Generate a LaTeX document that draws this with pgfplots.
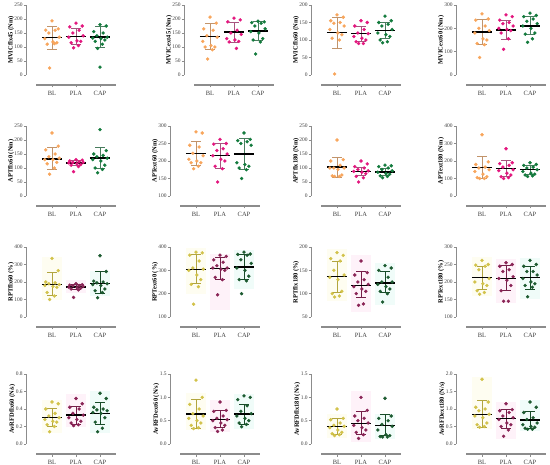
\documentclass[border=0pt]{standalone}
\usepackage{pgfplots}
\pgfplotsset{compat=1.18}
\usepackage{fontspec}
\setmainfont{Liberation Serif}
\definecolor{axgray}{HTML}{8C8C8C}
\definecolor{labgray}{HTML}{404040}
\definecolor{orA}{HTML}{F8A55B}
\definecolor{pkA}{HTML}{E3167E}
\definecolor{gnA}{HTML}{127A3C}
\definecolor{ylB}{HTML}{D2C24A}
\definecolor{pkB}{HTML}{8A2456}
\definecolor{gnB}{HTML}{1C5A30}
\definecolor{bgY}{HTML}{FEFDF1}
\definecolor{bgP}{HTML}{FEF2F9}
\definecolor{bgC}{HTML}{F0FCF9}

\newcommand{\jitof}[1]{\ifcase#1 0\or 0.26\or -0.26\or 0.13\or -0.13\or 0.3\or -0.3\or 0.04\or 0.2\or -0.2\or 0.1\or -0.1\else 0\fi}

\newcommand{\pts}[3]{\addplot[only marks, mark=*, mark size=1.5bp, color=#2] table[row sep=\\, header=false, x expr={#1+(\jitof{\coordindex})}, y index=0] {#3\\};}

\newcommand{\msd}[5]{%
 \pgfmathsetmacro\xa{#1-0.2}\pgfmathsetmacro\xb{#1+0.2}%
 \pgfmathsetmacro\xc{#1-0.42}\pgfmathsetmacro\xd{#1+0.42}%
 \addplot[#2, line width=0.9bp] coordinates {(#1,#5) (#1,#4)};
 \addplot[#2, line width=0.9bp] coordinates {(\xa,#4) (\xb,#4)};
 \addplot[#2, line width=0.9bp] coordinates {(\xa,#5) (\xb,#5)};
 \addplot[black, line width=1.4bp] coordinates {(\xc,#3) (\xd,#3)};
}

\newcommand{\bgr}[4]{%
 \pgfmathsetmacro\xa{#1-0.42}\pgfmathsetmacro\xb{#1+0.42}%
 \addplot[fill=#2, draw=none] coordinates {(\xa,#3) (\xb,#3) (\xb,#4) (\xa,#4)};
}

\pgfplotsset{
 panel/.style={
  scale only axis, width=79.2bp, height=70bp,
  xmin=-0.65, xmax=2.65,
  axis x line=bottom, axis y line=left,
  axis x line shift=10bp, axis y line shift=10bp,
  axis line style={-, draw=axgray, line width=1.1bp},
  xtick={0,1,2}, xticklabels={BL,PLA,CAP},
  tick align=outside, major tick length=2.5bp, minor tick num=0,
  tick style={axgray, line width=0.8bp},
  tick label style={text=labgray},
  yticklabel style={font=\fontsize{5.5}{6}\selectfont, inner sep=1bp},
  xticklabel style={font=\fontsize{6.5}{7}\selectfont},
  ylabel style={font=\fontsize{6.5}{7}\selectfont\bfseries, text=black},
  ylabel shift=-4bp,
  clip=false,
  /pgf/number format/assume math mode=true,
  anchor=south west,
 },
 dec/.style={yticklabel style={/pgf/number format/.cd, fixed, fixed zerofill, precision=1}},
}

\begin{document}
\begin{tikzpicture}
\path[use as bounding box] (0,0) rectangle (550bp,465bp);

% ---------------- Row 1 ----------------
\begin{axis}[panel, at={(36.4bp,390bp)}, ymin=0, ymax=250, ytick={0,50,100,150,200,250}, ylabel={MVICflx45 (Nm)}]
\pts{0}{orA}{193\\165\\160\\160\\150\\135\\130\\118\\115\\110\\112\\25}
\pts{1}{pkA}{185\\175\\172\\160\\150\\140\\135\\122\\120\\115\\105\\97}
\pts{2}{gnA}{180\\175\\155\\150\\140\\135\\132\\130\\125\\120\\110\\95\\28}
\msd{0}{orA!55!gray}{133}{175}{91}
\msd{1}{pkA!40!gray}{137}{165}{110}
\msd{2}{gnA!50!gray}{135}{175}{97}
\end{axis}

\begin{axis}[panel, at={(194.4bp,390bp)}, ymin=0, ymax=250, ytick={0,50,100,150,200,250}, ylabel={MVICext45 (Nm)}]
\pts{0}{orA}{207\\185\\165\\160\\140\\135\\120\\105\\100\\100\\90\\57}
\pts{1}{pkA}{203\\197\\190\\160\\150\\145\\130\\125\\120\\118\\95}
\pts{2}{gnA}{192\\190\\187\\185\\175\\165\\155\\150\\130\\125\\118\\75}
\msd{0}{orA!55!gray}{137}{183}{92}
\msd{1}{pkA!40!gray}{153}{188}{118}
\msd{2}{gnA!50!gray}{157}{190}{123}
\end{axis}

\begin{axis}[panel, at={(321.4bp,390bp)}, ymin=0, ymax=200, ytick={0,50,100,150,200}, ylabel={MVICflx60 (Nm)}]
\pts{0}{orA}{172\\165\\155\\150\\148\\140\\130\\120\\115\\105\\100\\3}
\pts{1}{pkA}{155\\150\\140\\130\\120\\118\\110\\105\\100\\95\\90\\90}
\pts{2}{gnA}{168\\155\\150\\145\\140\\130\\120\\115\\110\\100\\95\\92}
\msd{0}{orA!55!gray}{121}{165}{77}
\msd{1}{pkA!40!gray}{118}{140}{97}
\msd{2}{gnA!50!gray}{127}{150}{105}
\end{axis}

\begin{axis}[panel, at={(466.4bp,390bp)}, ymin=0, ymax=300, ytick={0,100,200,300}, ylabel={MVICext60 (Nm)}]
\pts{0}{orA}{262\\240\\235\\210\\200\\190\\180\\155\\150\\135\\130\\75}
\pts{1}{pkA}{258\\250\\235\\225\\220\\210\\200\\195\\190\\180\\155\\110}
\pts{2}{gnA}{265\\255\\250\\240\\230\\220\\210\\200\\180\\175\\155\\140}
\msd{0}{orA!55!gray}{185}{240}{132}
\msd{1}{pkA!40!gray}{193}{235}{152}
\msd{2}{gnA!50!gray}{210}{250}{172}
\end{axis}

% ---------------- Row 2 ----------------
\begin{axis}[panel, at={(36.4bp,269bp)}, ymin=0, ymax=250, ytick={0,50,100,150,200,250}, ylabel={APTflx60 (Nm)}]
\pts{0}{orA}{225\\178\\165\\150\\140\\135\\130\\130\\120\\115\\100\\78}
\pts{1}{pkA}{130\\128\\125\\122\\120\\120\\118\\115\\112\\110\\105\\87}
\pts{2}{gnA}{237\\162\\150\\145\\140\\135\\130\\125\\110\\100\\95\\83}
\msd{0}{orA!55!gray}{132}{172}{95}
\msd{1}{pkA!40!gray}{118}{128}{108}
\msd{2}{gnA!50!gray}{135}{175}{97}
\end{axis}

\begin{axis}[panel, at={(180.4bp,269bp)}, ymin=100, ymax=300, ytick={100,150,200,250,300}, ylabel={APText60 (Nm)}]
\pts{0}{orA}{283\\280\\245\\240\\222\\215\\205\\200\\195\\195\\185\\178}
\pts{1}{pkA}{262\\250\\248\\235\\230\\220\\215\\205\\200\\185\\178\\140}
\pts{2}{gnA}{280\\262\\258\\255\\250\\245\\195\\190\\185\\180\\175\\150}
\msd{0}{orA!55!gray}{222}{257}{187}
\msd{1}{pkA!40!gray}{215}{250}{180}
\msd{2}{gnA!50!gray}{220}{263}{177}
\end{axis}

\begin{axis}[panel, at={(321.4bp,269bp)}, ymin=0, ymax=250, ytick={0,50,100,150,200,250}, ylabel={APTflx180 (Nm)}]
\pts{0}{orA}{200\\130\\125\\110\\100\\100\\100\\95\\75\\72\\70\\70}
\pts{1}{pkA}{125\\115\\105\\100\\95\\90\\88\\85\\80\\70\\65\\50}
\pts{2}{gnA}{110\\108\\105\\100\\95\\90\\85\\80\\78\\72\\70\\65}
\msd{0}{orA!55!gray}{103}{138}{68}
\msd{1}{pkA!40!gray}{88}{103}{72}
\msd{2}{gnA!50!gray}{86}{100}{72}
\end{axis}

\begin{axis}[panel, at={(466.4bp,269bp)}, ymin=0, ymax=400, ytick={0,100,200,300,400}, ylabel={APText180 (Nm)}]
\pts{0}{orA}{350\\195\\180\\165\\160\\150\\140\\125\\110\\105\\100\\100}
\pts{1}{pkA}{270\\190\\185\\175\\165\\150\\145\\130\\120\\110\\105\\100}
\pts{2}{gnA}{190\\180\\175\\165\\160\\150\\140\\130\\125\\120\\115\\112}
\msd{0}{orA!55!gray}{163}{228}{100}
\msd{1}{pkA!40!gray}{158}{205}{113}
\msd{2}{gnA!50!gray}{150}{175}{125}
\end{axis}

% ---------------- Row 3 ----------------
\begin{axis}[panel, at={(36.4bp,148bp)}, ymin=0, ymax=400, ytick={0,100,200,300,400}, ylabel={RPTflx60 (\%)}]
\bgr{0}{bgY}{95}{345}\bgr{1}{bgP}{135}{212}\bgr{2}{bgC}{120}{265}
\pts{0}{ylB}{335\\265\\200\\195\\190\\185\\180\\175\\170\\140\\120\\100}
\pts{1}{pkB}{190\\185\\182\\180\\178\\175\\170\\168\\165\\160\\155\\112}
\pts{2}{gnB}{350\\260\\205\\200\\195\\190\\185\\180\\160\\150\\140\\110}
\msd{0}{ylB!85!black}{185}{252}{122}
\msd{1}{pkB!85!black}{172}{188}{157}
\msd{2}{gnB!85!black}{193}{258}{135}
\end{axis}

\begin{axis}[panel, at={(180.4bp,148bp)}, ymin=100, ymax=400, ytick={100,200,300,400}, ylabel={RPText60 (\%)}]
\bgr{0}{bgY}{200}{395}\bgr{1}{bgP}{130}{370}\bgr{2}{bgC}{220}{385}
\pts{0}{ylB}{378\\375\\365\\340\\310\\305\\300\\280\\260\\240\\230\\155}
\pts{1}{pkB}{365\\360\\345\\335\\320\\310\\310\\305\\300\\270\\260\\195}
\pts{2}{gnB}{378\\370\\368\\365\\345\\330\\310\\300\\275\\260\\255\\200}
\msd{0}{ylB!85!black}{303}{368}{243}
\msd{1}{pkB!85!black}{307}{355}{260}
\msd{2}{gnB!85!black}{315}{370}{262}
\end{axis}

\begin{axis}[panel, at={(321.4bp,148bp)}, ymin=50, ymax=200, ytick={50,100,150,200}, ylabel={RPTflx180 (\%)}]
\bgr{0}{bgY}{85}{195}\bgr{1}{bgP}{61}{183}\bgr{2}{bgC}{75}{165}
\pts{0}{ylB}{188\\182\\175\\170\\150\\140\\135\\130\\105\\100\\95\\93}
\pts{1}{pkB}{170\\145\\140\\130\\125\\120\\115\\110\\105\\100\\78\\75}
\pts{2}{gnB}{160\\155\\150\\135\\125\\125\\120\\115\\110\\105\\100\\82}
\msd{0}{ylB!85!black}{137}{170}{103}
\msd{1}{pkB!85!black}{118}{147}{92}
\msd{2}{gnB!85!black}{123}{147}{103}
\end{axis}

\begin{axis}[panel, at={(466.4bp,148bp)}, ymin=100, ymax=300, ytick={100,150,200,250,300}, ylabel={RPText180 (\%)}]
\bgr{0}{bgY}{160}{270}\bgr{1}{bgP}{140}{265}\bgr{2}{bgC}{150}{268}
\pts{0}{ylB}{262\\250\\248\\245\\235\\210\\200\\195\\190\\175\\170\\165}
\pts{1}{pkB}{255\\250\\245\\235\\230\\215\\210\\205\\190\\175\\145\\145}
\pts{2}{gnB}{262\\250\\245\\230\\230\\220\\210\\200\\195\\190\\185\\158}
\msd{0}{ylB!85!black}{212}{245}{178}
\msd{1}{pkB!85!black}{210}{248}{175}
\msd{2}{gnB!85!black}{213}{245}{180}
\end{axis}

% ---------------- Row 4 ----------------
\begin{axis}[panel, dec, at={(36.4bp,21bp)}, ymin=0, ymax=0.8, ytick={0,0.2,0.4,0.6,0.8}, ylabel={AvRFDflx60 (N/s)}]
\bgr{0}{bgY}{0.12}{0.50}\bgr{1}{bgP}{0.19}{0.57}\bgr{2}{bgC}{0.12}{0.60}
\pts{0}{ylB}{0.48\\0.46\\0.40\\0.35\\0.32\\0.30\\0.28\\0.26\\0.25\\0.22\\0.20\\0.14}
\pts{1}{pkB}{0.52\\0.46\\0.42\\0.40\\0.35\\0.33\\0.30\\0.28\\0.26\\0.24\\0.22\\0.21}
\pts{2}{gnB}{0.58\\0.52\\0.42\\0.40\\0.39\\0.38\\0.36\\0.35\\0.30\\0.25\\0.18\\0.14}
\msd{0}{ylB!85!black}{0.30}{0.41}{0.20}
\msd{1}{pkB!85!black}{0.33}{0.43}{0.22}
\msd{2}{gnB!85!black}{0.35}{0.47}{0.22}
\end{axis}

\begin{axis}[panel, dec, at={(180.4bp,21bp)}, ymin=0, ymax=1.5, ytick={0,0.5,1.0,1.5}, ylabel={AvRFDext60 (N/s)}]
\bgr{0}{bgY}{0.30}{1.10}\bgr{1}{bgP}{0.25}{0.95}\bgr{2}{bgC}{0.33}{1.08}
\pts{0}{ylB}{1.37\\1.0\\0.85\\0.75\\0.65\\0.6\\0.55\\0.5\\0.45\\0.4\\0.35\\0.33}
\pts{1}{pkB}{0.9\\0.72\\0.7\\0.6\\0.55\\0.52\\0.5\\0.45\\0.4\\0.35\\0.3\\0.27}
\pts{2}{gnB}{1.03\\1.0\\0.95\\0.82\\0.7\\0.65\\0.6\\0.55\\0.5\\0.45\\0.42\\0.37}
\msd{0}{ylB!85!black}{0.64}{0.95}{0.33}
\msd{1}{pkB!85!black}{0.53}{0.72}{0.35}
\msd{2}{gnB!85!black}{0.64}{0.85}{0.42}
\end{axis}

\begin{axis}[panel, dec, at={(321.4bp,21bp)}, ymin=0, ymax=1.5, ytick={0,0.5,1.0,1.5}, ylabel={AvRFDflx180 (N/s)}]
\bgr{0}{bgY}{0.12}{0.65}\bgr{1}{bgP}{0.04}{1.13}\bgr{2}{bgC}{0.10}{0.65}
\pts{0}{ylB}{0.75\\0.55\\0.52\\0.45\\0.40\\0.38\\0.35\\0.30\\0.25\\0.22\\0.20\\0.18}
\pts{1}{pkB}{1.0\\0.72\\0.6\\0.55\\0.5\\0.45\\0.4\\0.35\\0.3\\0.25\\0.2\\0.12}
\pts{2}{gnB}{0.98\\0.6\\0.55\\0.5\\0.42\\0.38\\0.3\\0.2\\0.18\\0.16\\0.15\\0.15}
\msd{0}{ylB!85!black}{0.37}{0.55}{0.20}
\msd{1}{pkB!85!black}{0.44}{0.70}{0.20}
\msd{2}{gnB!85!black}{0.40}{0.64}{0.18}
\end{axis}

\begin{axis}[panel, dec, at={(466.4bp,21bp)}, ymin=0, ymax=2.0, ytick={0,0.5,1.0,1.5,2.0}, ylabel={AvRFDext180 (N/s)}]
\bgr{0}{bgY}{0.42}{1.90}\bgr{1}{bgP}{0.15}{1.20}\bgr{2}{bgC}{0.38}{1.25}
\pts{0}{ylB}{1.85\\1.2\\1.05\\1.0\\0.95\\0.85\\0.8\\0.75\\0.6\\0.55\\0.5\\0.48}
\pts{1}{pkB}{1.15\\0.98\\0.95\\0.9\\0.8\\0.75\\0.7\\0.6\\0.55\\0.5\\0.4\\0.22}
\pts{2}{gnB}{1.2\\1.05\\0.9\\0.75\\0.7\\0.6\\0.55\\0.5\\0.48\\0.45\\0.42\\0.42}
\msd{0}{ylB!85!black}{0.85}{1.23}{0.48}
\msd{1}{pkB!85!black}{0.72}{0.98}{0.45}
\msd{2}{gnB!85!black}{0.68}{0.93}{0.45}
\end{axis}
\end{tikzpicture}
\end{document}
